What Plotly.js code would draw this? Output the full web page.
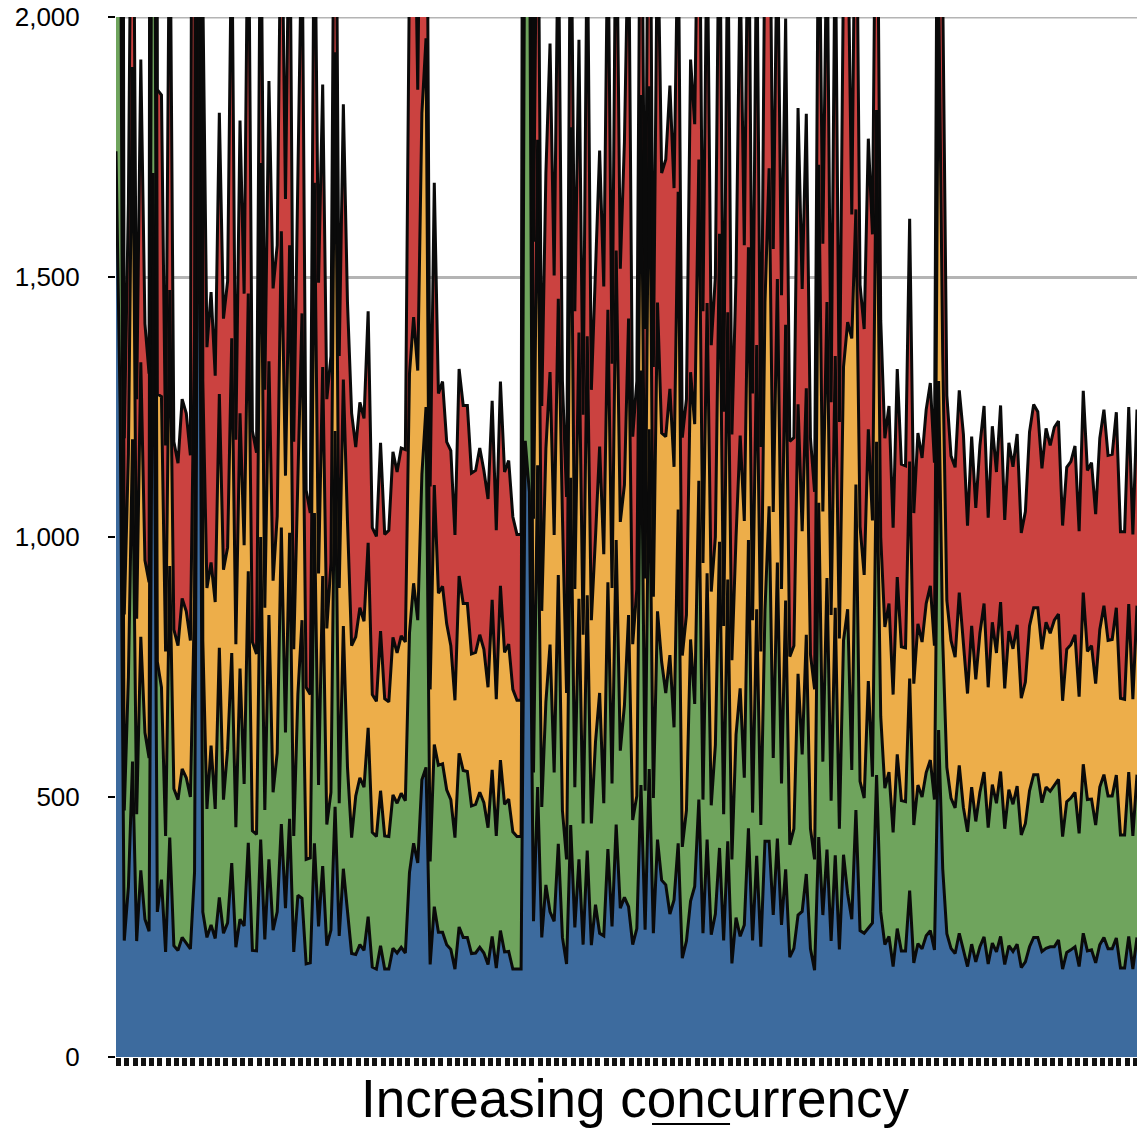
<!DOCTYPE html>
<html>
<head>
<meta charset="utf-8">
<script src="https://cdn.plot.ly/plotly-3.0.1.min.js"></script>
<style>html,body{margin:0;padding:0;background:#fff;overflow:hidden}</style>
</head>
<body>
<div id="chart" style="width:1137px;height:1128px"></div>
<script>
const blueTop = [
1742,1250,224,327,568,223,359,265,242,1700,
279,341,202,422,214,205,230,220,208,355,
2100,279,230,254,228,307,238,258,373,211,
265,252,412,205,204,418,226,380,244,279,
448,286,458,202,311,305,179,181,411,251,
367,214,244,481,233,362,279,199,197,216,
205,270,173,169,214,169,169,209,200,211,
200,355,411,373,533,557,178,289,240,240,
216,207,169,250,230,230,199,200,211,200,
178,232,171,243,202,203,169,169,169,1185,
1087,261,519,230,331,279,261,410,230,179,
446,249,380,216,397,215,293,238,233,400,
251,447,286,307,289,216,247,523,245,554,
238,418,340,331,275,302,411,190,223,300,
328,495,238,418,235,275,402,224,415,180,
268,232,254,440,224,387,212,415,415,273,
420,254,361,192,209,273,280,352,208,167,
423,273,399,223,388,207,389,314,265,475,
243,238,249,258,542,279,216,232,174,247,
204,204,320,181,218,208,233,243,206,629,
362,237,209,199,238,206,174,217,183,212,
231,179,219,202,232,178,214,203,217,172,
183,212,230,230,203,209,212,212,225,169,
201,206,212,174,238,204,206,181,216,230,
208,208,229,171,171,232,169,230];
const greenTop = [
3419,2484,474,730,1188,467,808,624,575,3300,
760,711,425,944,516,495,554,537,500,880,
4100,800,477,599,477,787,495,592,777,442,
747,525,934,435,428,1000,475,850,509,585,
1018,624,1008,425,697,840,380,383,1046,523,
925,447,509,1204,488,829,557,422,502,537,
519,633,432,424,512,425,424,504,488,507,
493,815,911,840,1120,1250,376,601,561,564,
514,495,422,584,551,549,483,486,509,489,
441,552,425,571,486,496,433,424,424,2500,
2300,547,1138,481,683,793,547,927,474,380,
1114,519,881,449,888,449,606,700,488,913,
526,994,589,676,850,456,502,1320,512,1207,
498,857,760,700,773,634,1053,404,474,803,
679,1108,495,930,484,600,991,467,918,380,
620,709,537,994,470,861,446,860,1059,575,
951,526,878,408,439,737,582,812,439,380,
1066,568,921,493,864,439,801,861,552,1101,
530,498,723,539,1183,655,517,548,432,582,
493,491,728,446,523,500,547,571,495,1300,
800,557,498,479,561,480,433,519,453,509,
548,441,524,488,549,439,514,486,521,427,
449,512,543,543,489,519,511,523,534,424,
491,498,509,430,563,495,496,446,519,543,
502,502,542,427,427,548,425,543];
const yellowTop = [
5405,3929,851,1160,1904,843,1336,955,913,5200,
1275,1270,780,1475,822,791,882,857,801,1400,
6500,1300,902,951,875,1275,937,980,1382,794,
1238,984,1468,798,775,1719,864,1338,916,1040,
1588,1118,1561,784,1112,1430,711,697,1681,930,
1327,824,950,1932,902,1303,1030,791,808,864,
838,989,697,684,819,689,683,807,777,810,
798,1314,1423,1320,1815,1959,707,1100,892,905,
833,791,686,925,872,872,775,778,812,784,
711,879,688,906,778,794,707,686,686,3700,
3400,1035,1764,858,1170,1317,1004,1458,1040,700,
1788,900,1393,812,1386,840,1000,1174,967,1437,
902,1551,1029,1100,1420,794,900,1850,920,1867,
885,1451,1200,1193,1285,1135,1664,772,850,1317,
1217,1726,950,1450,895,1000,1583,829,1432,763,
1000,1195,1031,1557,840,1369,780,1450,1709,1048,
1496,900,1408,770,791,1255,1011,1286,774,707,
1716,1049,1452,850,1348,805,1327,1413,1382,1630,
1020,927,1207,1032,1821,1000,827,872,697,923,
789,787,1145,718,833,798,872,906,791,2066,
1350,878,801,769,893,790,699,829,726,815,
872,711,836,777,875,709,819,785,831,690,
721,829,864,864,784,836,815,840,852,685,
784,793,812,693,893,780,791,718,822,868,
801,803,864,690,688,871,688,868];
const redTop = [
7387,5389,1190,1642,2620,1265,1918,1410,1314,7200,
1860,1850,1176,2300,1183,1142,1265,1238,1157,2100,
8800,2050,1365,1471,1310,1816,1420,1492,2200,1187,
1801,1468,2300,1204,1162,2300,1283,1877,1478,1561,
2300,1650,2300,1183,1623,2200,1090,1046,2300,1489,
1870,1265,1348,2600,1348,1832,1451,1238,1173,1259,
1228,1434,1018,1001,1181,1005,1013,1164,1125,1171,
1168,2100,2400,1860,2600,2700,1097,1681,1276,1299,
1183,1166,1004,1323,1253,1253,1123,1128,1171,1128,
1073,1262,1013,1299,1125,1147,1039,1005,1005,5100,
4700,1568,2400,1252,1700,1949,1503,2200,1300,1077,
2300,1434,1956,1235,2200,1283,1500,1743,1482,2200,
1333,2300,1516,1760,2200,1193,1300,2500,1400,2600,
1327,2200,1700,1726,1868,1671,2200,1191,1265,1918,
1794,2400,1434,2200,1369,1500,2300,1241,2200,1197,
1500,2100,1561,2300,1276,2200,1173,2200,2400,1554,
2200,1465,1997,1184,1191,1825,1477,1814,1190,1087,
2300,1564,2200,1259,2200,1221,2100,2200,1620,2400,
1485,1400,1766,1582,2500,1417,1190,1252,1018,1323,
1140,1137,1612,1046,1200,1152,1245,1296,1143,2868,
2050,1272,1156,1134,1282,1198,1022,1193,1056,1176,
1252,1037,1213,1125,1253,1033,1181,1135,1198,1008,
1049,1202,1255,1241,1132,1209,1176,1211,1223,1022,
1134,1145,1175,1011,1281,1128,1143,1044,1190,1245,
1157,1159,1240,1010,1010,1250,1005,1245];

const samples = blueTop.map((_, i) => i);
const yTicks = [0, 500, 1000, 1500, 2000];
const xLabel = 'Increasing concurrency';
const palette = ['#3d6b9e', '#6fa45d', '#edae4a', '#cb4240'];
const seriesTops = [blueTop, greenTop, yellowTop, redTop];

const traces = seriesTops.map((y, k) => ({
  x: samples, y, type: 'scatter', mode: 'lines',
  fill: k === 0 ? 'tozeroy' : 'tonexty',
  fillcolor: palette[k],
  line: {color: '#0a0a0a', width: 3, shape: 'linear'},
  hoverinfo: 'skip', showlegend: false
}));

const layout = {
  width: 1137, height: 1128,
  margin: {l: 116, r: 0, t: 17, b: 71, pad: 0},
  paper_bgcolor: '#fff', plot_bgcolor: '#fff',
  showlegend: false,
  font: {family: '"Liberation Sans", Arial, sans-serif', color: '#000'},
  xaxis: {
    range: [0, samples.length - 1], showgrid: false, zeroline: false, showline: false,
    tickmode: 'linear', tick0: 0.6, dtick: 2, ticks: 'outside', ticklen: 8, tickwidth: 5,
    tickcolor: '#111', showticklabels: false, fixedrange: true
  },
  yaxis: {
    range: [0, 2000], tickmode: 'array', tickvals: yTicks, tickformat: ',d',
    ticks: 'outside', ticklen: 7, tickwidth: 2, tickcolor: '#000',
    ticklabelstandoff: 23, tickfont: {size: 26, color: '#000'},
    showgrid: true, gridcolor: '#b4b4b4', gridwidth: 3, zeroline: false, showline: false, fixedrange: true
  },
  annotations: [{
    text: xLabel, xref: 'paper', yref: 'paper', x: 0.508, y: -0.0093,
    xanchor: 'center', yanchor: 'top', showarrow: false,
    font: {size: 53, color: '#000', family: '"Liberation Sans", Arial, sans-serif'}
  }],
  shapes: [{
    type: 'line', xref: 'paper', yref: 'paper', x0: 0.525, x1: 0.6014, y0: -0.0644, y1: -0.0644,
    line: {color: '#000', width: 2}
  }, {
    type: 'line', xref: 'paper', yref: 'y', x0: 0, x1: 1, y0: yTicks[4], y1: yTicks[4],
    layer: 'below', line: {color: '#b4b4b4', width: 3}
  }]
};
Plotly.newPlot('chart', traces, layout, {displayModeBar: false, staticPlot: true});
</script>
</body>
</html>
